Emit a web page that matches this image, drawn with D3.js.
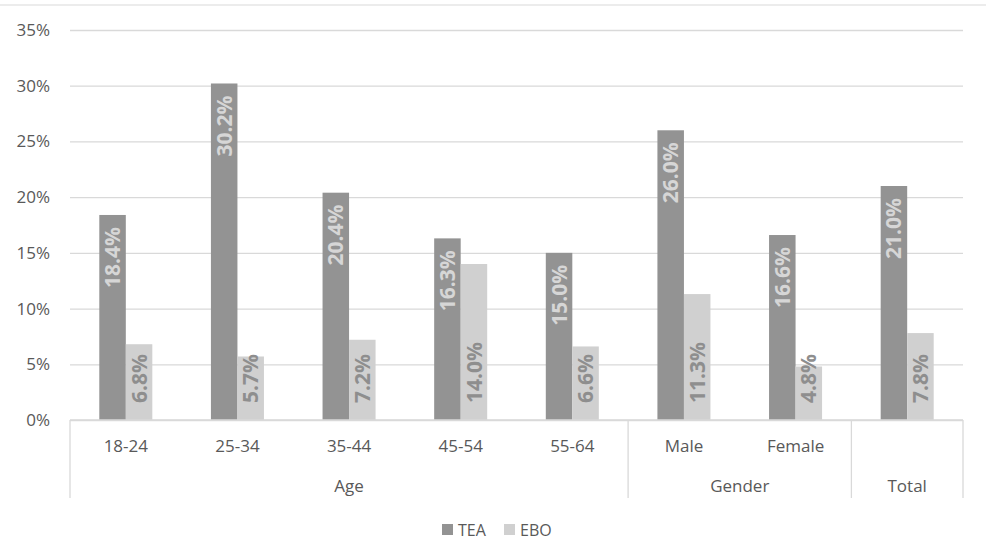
<!DOCTYPE html>
<html>
<head>
<meta charset="utf-8">
<script src="https://cdn.jsdelivr.net/npm/d3@7"></script>
<style>
  html, body { margin: 0; padding: 0; background: #fff; }
  svg { display: block; font-family: "Open Sans", sans-serif; }
</style>
</head>
<body>
<svg id="chart" width="986" height="556"></svg>
<script>
const categories = ["18-24", "25-34", "35-44", "45-54", "55-64", "Male", "Female", "Total"];
const groups = [
  { name: "Age", members: ["18-24", "25-34", "35-44", "45-54", "55-64"] },
  { name: "Gender", members: ["Male", "Female"] },
  { name: "Total", members: ["Total"] }
];
const seriesNames = ["TEA", "EBO"];
const teaValues = [18.4, 30.2, 20.4, 16.3, 15.0, 26.0, 16.6, 21.0];
const eboValues = [6.8, 5.7, 7.2, 14.0, 6.6, 11.3, 4.8, 7.8];
const yTicks = [0, 5, 10, 15, 20, 25, 30, 35];

const colors = { TEA: "#939393", EBO: "#d0d0d0" };
const labelColors = { TEA: "#d6d6d6", EBO: "#8e8e8e" };
const textColor = "#595959";
const gridColor = "#d9d9d9";

const svg = d3.select("#chart");
const plotLeft = 70, plotRight = 963, plotTop = 30, plotBottom = 420;

const x = d3.scaleBand().domain(categories).range([plotLeft, plotRight])
  .paddingInner(0.525).paddingOuter(0.2625);
const xs = d3.scaleBand().domain(seriesNames).range([0, x.bandwidth()]);
const y = d3.scaleLinear().domain([0, 35]).range([plotBottom, plotTop]);

// top border line
svg.append("line").attr("x1", 0).attr("x2", 986).attr("y1", 5).attr("y2", 5)
  .attr("stroke", gridColor).attr("stroke-width", 1);

// gridlines
const yAxis = d3.axisLeft(y).tickValues(yTicks).tickFormat(d => d + "%")
  .tickSize(-(plotRight - plotLeft)).tickPadding(20);
const yg = svg.append("g").attr("transform", `translate(${plotLeft},0)`).call(yAxis);
yg.select(".domain").remove();
yg.selectAll(".tick line").attr("stroke", gridColor).attr("stroke-width", 1.3);
yg.selectAll(".tick text").attr("fill", textColor).attr("font-size", 17)
  .attr("font-family", "'Open Sans', sans-serif");

// bars
const data = categories.map((c, i) => ({ cat: c, TEA: teaValues[i], EBO: eboValues[i] }));
const cg = svg.append("g").selectAll("g").data(data).join("g")
  .attr("transform", d => `translate(${x(d.cat)},0)`);

seriesNames.forEach(s => {
  cg.append("rect")
    .attr("x", xs(s)).attr("width", xs.bandwidth())
    .attr("y", d => y(d[s])).attr("height", d => y(0) - y(d[s]))
    .attr("fill", colors[s]);
});

// labels
cg.append("text")
  .attr("transform", d => `translate(${xs("TEA") + xs.bandwidth() / 2},${y(d.TEA) + 12}) rotate(-90)`)
  .attr("text-anchor", "end").attr("dy", "0.36em")
  .attr("font-size", 21).attr("font-weight", "bold").attr("fill", labelColors.TEA)
  .text(d => d.TEA.toFixed(1) + "%");
cg.append("text")
  .attr("transform", d => `translate(${xs("EBO") + xs.bandwidth() / 2},${y(0) - 17}) rotate(-90)`)
  .attr("text-anchor", "start").attr("dy", "0.36em")
  .attr("font-size", 21).attr("font-weight", "bold").attr("fill", labelColors.EBO)
  .text(d => d.EBO.toFixed(1) + "%");

// x axis baseline
svg.append("line").attr("x1", plotLeft).attr("x2", plotRight).attr("y1", plotBottom).attr("y2", plotBottom)
  .attr("stroke", gridColor).attr("stroke-width", 1.3);

// category labels
svg.append("g").selectAll("text").data(categories).join("text")
  .attr("x", d => x(d) + x.bandwidth() / 2).attr("y", 452)
  .attr("text-anchor", "middle").attr("font-size", 17).attr("fill", textColor)
  .text(d => d === "Total" ? "" : d);

// group separators and labels
const step = x.step();
let bounds = [];
groups.forEach(g => {
  const x0 = x(g.members[0]) - (x.paddingInner() * step) / 2;
  const x1 = x(g.members[g.members.length - 1]) + x.bandwidth() + (x.paddingInner() * step) / 2;
  bounds.push(x0, x1);
  svg.append("text").attr("x", (x0 + x1) / 2).attr("y", 492)
    .attr("text-anchor", "middle").attr("font-size", 17).attr("fill", textColor)
    .text(g.name);
});
const sepXs = Array.from(new Set(bounds.map(v => Math.round(v * 10) / 10)));
svg.append("g").selectAll("line").data(sepXs).join("line")
  .attr("x1", d => d).attr("x2", d => d).attr("y1", plotBottom).attr("y2", 498)
  .attr("stroke", gridColor).attr("stroke-width", 1.3);

// legend
const legend = svg.append("g").attr("transform", "translate(442,524)");
const legX = { TEA: 0, EBO: 62 };
seriesNames.forEach(s => {
  const lg = legend.append("g").attr("transform", `translate(${legX[s]},0)`);
  lg.append("rect").attr("width", 11).attr("height", 11).attr("fill", colors[s]);
  lg.append("text").attr("x", 16).attr("y", 12).attr("font-size", 16).attr("fill", textColor).text(s);
});
</script>
</body>
</html>
